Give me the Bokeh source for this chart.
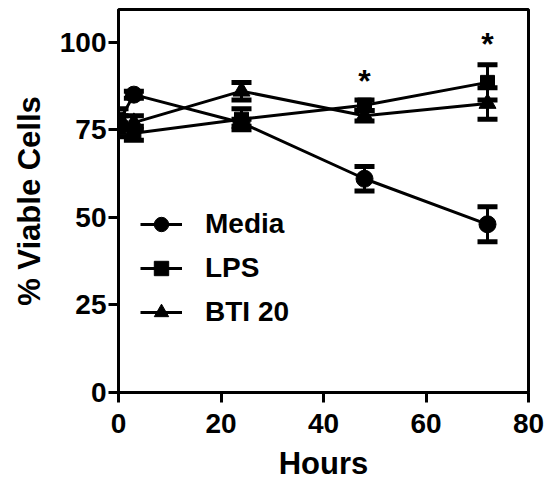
from bokeh.plotting import figure
from bokeh.models import ColumnDataSource, Whisker, TeeHead, FixedTicker, Legend, LegendItem, Range1d
from bokeh.core.properties import value
from bokeh.embed import file_html
from bokeh.resources import INLINE

hours = [0, 3, 24, 48, 72]
media = [77, 85, 77, 61, 48]
media_err = [2, 1, 1, 3.5, 5]
lps = [78, 74, 78, 82, 88.5]
lps_err = [3, 2, 3, 1.5, 5]
bti = [75, 77, 86, 79, 82.5]
bti_err = [2, 2, 2.5, 1.5, 4.5]
star_hours = [48, 72]
star_y = [90, 100.5]
y_ticks = [0, 25, 50, 75, 100]
x_ticks = [0, 20, 40, 60, 80]

FONT = "Liberation Sans"

p = figure(width=548, height=485, output_backend="svg", toolbar_location=None,
           x_range=Range1d(0, 80), y_range=Range1d(0, 109.3),
           min_border_left=118, min_border_right=20, min_border_top=9, min_border_bottom=93)
p.grid.visible = False
p.outline_line_color = "black"
p.outline_line_width = 3
p.background_fill_color = "white"
p.border_fill_color = "white"

for ax in (p.xaxis[0], p.yaxis[0]):
    ax.axis_line_width = 3
    ax.major_tick_line_width = 3
    ax.major_tick_out = 10
    ax.major_tick_in = 0
    ax.minor_tick_line_color = None
    ax.major_label_text_font = FONT
    ax.major_label_text_font_style = "bold"
    ax.major_label_text_font_size = "28px"
    ax.major_label_text_color = "black"
    ax.axis_label_text_font = FONT
    ax.axis_label_text_font_style = "bold"
    ax.axis_label_text_font_size = "31px"
    ax.axis_label_text_color = "black"

p.xaxis.ticker = FixedTicker(ticks=x_ticks)
p.yaxis.ticker = FixedTicker(ticks=y_ticks)
p.xaxis.axis_label = "Hours"
p.yaxis.axis_label = "% Viable Cells"
p.xaxis.major_label_standoff = 11
p.yaxis.major_label_standoff = 2
p.xaxis.axis_label_standoff = 10
p.yaxis.axis_label_standoff = 10

series = [
    ("Media", media, media_err, "circle", 17),
    ("LPS", lps, lps_err, "square", 14),
    ("BTI 20", bti, bti_err, "triangle", 17),
]

items = []
for name, vals, errs, marker, size in series:
    src = ColumnDataSource(dict(x=hours, y=vals,
                                lo=[v - e for v, e in zip(vals, errs)],
                                hi=[v + e for v, e in zip(vals, errs)]))
    w = Whisker(base="x", upper="hi", lower="lo", source=src, line_width=3, line_color="black",
                upper_head=TeeHead(size=20, line_width=5, line_color="black"),
                lower_head=TeeHead(size=20, line_width=5, line_color="black"))
    p.add_layout(w)
    lr = p.line("x", "y", source=src, line_width=3, line_color="black")
    sr = p.scatter("x", "y", source=src, marker=marker, size=size, fill_color="black", line_color="black")
    items.append(LegendItem(label=name, renderers=[lr, sr]))

p.text(x=star_hours, y=star_y, text=["*", "*"], text_font=value(FONT), text_font_style="bold",
       text_font_size="32px", text_align="center", text_baseline="middle", y_offset=4, text_color="black")

leg = Legend(items=items, location=(22, 62), padding=0, margin=0, spacing=8,
             glyph_width=42, glyph_height=36, label_height=36, label_standoff=23,
             label_text_font=FONT, label_text_font_style="bold", label_text_font_size="28px",
             label_text_color="black",
             border_line_alpha=0, background_fill_alpha=0)
p.add_layout(leg)

open("out.html", "w").write(file_html(p, INLINE))
